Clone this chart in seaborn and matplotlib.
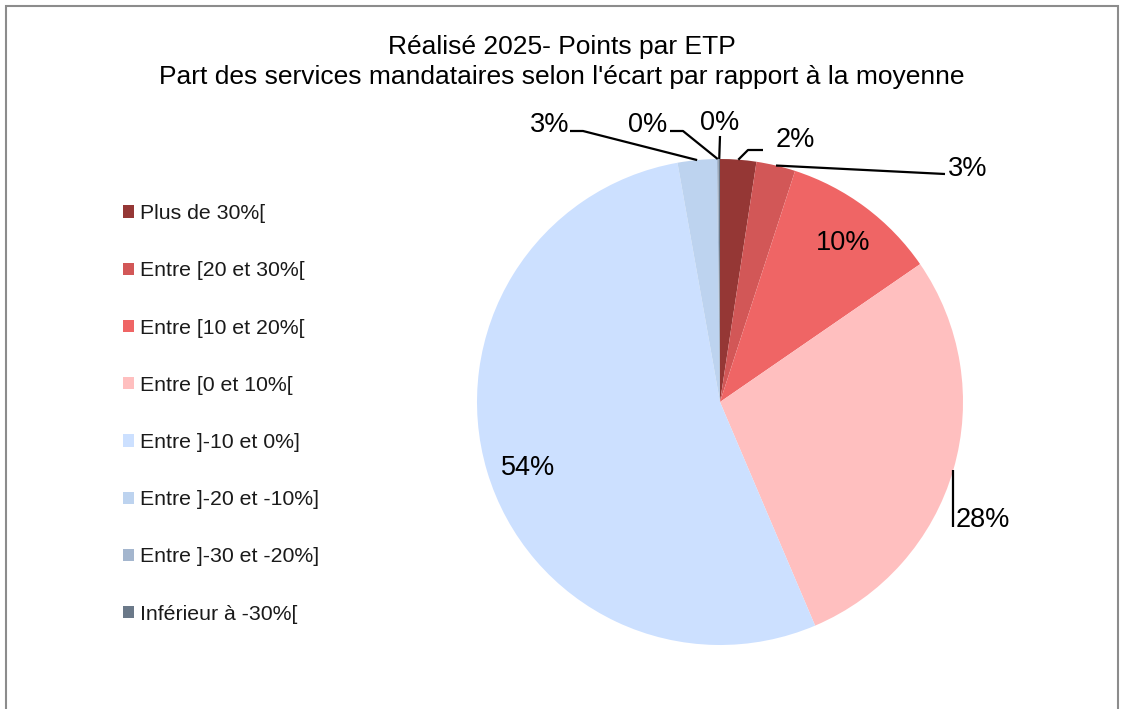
import matplotlib
matplotlib.use("Agg")
import matplotlib.pyplot as plt
import seaborn as sns
from matplotlib.patches import Patch, Rectangle
import numpy as np

categories = ["Plus de 30%[", "Entre [20 et 30%[", "Entre [10 et 20%[", "Entre [0 et 10%[",
              "Entre ]-10 et 0%]", "Entre ]-20 et -10%]", "Entre ]-30 et -20%]", "Inférieur à -30%["]
values = [2.4, 2.6, 10.4, 28.2, 53.6, 2.6, 0.1, 0.1]
colors = ["#953735", "#D25757", "#EF6565", "#FFBFBF", "#CCE0FF", "#BDD3EF", "#A4B6CE", "#6B7989"]
title = "Réalisé 2025- Points par ETP\nPart des services mandataires selon l'écart par rapport à la moyenne"

sns.set_theme(style="white")
plt.rcParams['font.family'] = ['Liberation Sans', 'DejaVu Sans']

W, H = 1124, 709
fig = plt.figure(figsize=(W / 100, H / 100), dpi=100)
fig.patch.set_facecolor("white")

# border
fig.patches.append(Rectangle((6 / W, -0.05), (1118 - 6) / W, 1.05 - 6 / H, transform=fig.transFigure,
                             fill=False, edgecolor="#8c8c8c", linewidth=1.5))

cx, cy, R = 720, 402, 243
ax = fig.add_axes([(cx - R) / W, (H - cy - R) / H, 2 * R / W, 2 * R / H])
wedges, _ = ax.pie(values, colors=colors, startangle=90, counterclock=False, radius=1.0,
                   wedgeprops=dict(linewidth=0))
ax.set_xlim(-1, 1)
ax.set_ylim(-1, 1)
ax.set_aspect("equal")
ax.axis("off")

total = sum(values)
fracs = np.array(values) / total
cum = np.concatenate([[0], np.cumsum(fracs)[:-1]])
mids = np.deg2rad(90 - 360 * (cum + fracs / 2))
labels = [f"{round(f * 100):.0f}%" for f in fracs]


def d(px, py):
    return ((px - cx) / R, (cy - py) / R)


layout = {
    0: ((776, 140), "left", [(763, 150), (748, 150)]),
    1: ((948, 169), "left", [(945, 174)]),
    2: ((843, 243), "center", None),
    3: ((956, 520), "left", "vertical"),
    4: ((528, 468), "center", None),
    5: ((569, 125), "right", [(570, 131), (583, 131)]),
    6: ((667, 125), "right", [(670, 131), (683, 131)]),
    7: ((720, 123), "center", [(720, 136)]),
}

for i, (tpos, ha, path) in layout.items():
    tx, ty = d(*tpos)
    ax.text(tx, ty, labels[i], ha=ha, va="center", fontsize=19.5, color="black", clip_on=False)
    ex, ey = np.cos(mids[i]), np.sin(mids[i])
    if path is None:
        continue
    if path == "vertical":
        xs = [ex, ex]
        ys = [ey, d(0, 527)[1]]
    else:
        pts = [d(*p) for p in path] + [(ex, ey)]
        xs = [p[0] for p in pts]
        ys = [p[1] for p in pts]
    ax.plot(xs, ys, color="black", linewidth=1.6, clip_on=False, solid_capstyle="butt")

fig.text(562 / W, 1 - 62 / H, title, ha="center", va="center", fontsize=19, linespacing=1.3,
         color="black")

handles = [Patch(facecolor=c, edgecolor="none") for c in colors]
fig.legend(handles, categories, loc="upper left", bbox_to_anchor=(123 / W, 1 - 204 / H),
           frameon=False, fontsize=15.3, labelspacing=1.8, handlelength=0.5, handleheight=0.5,
           handletextpad=0.3, borderaxespad=0, borderpad=0, labelcolor="#1a1a1a")

fig.savefig("out.png", dpi=100, facecolor="white")
